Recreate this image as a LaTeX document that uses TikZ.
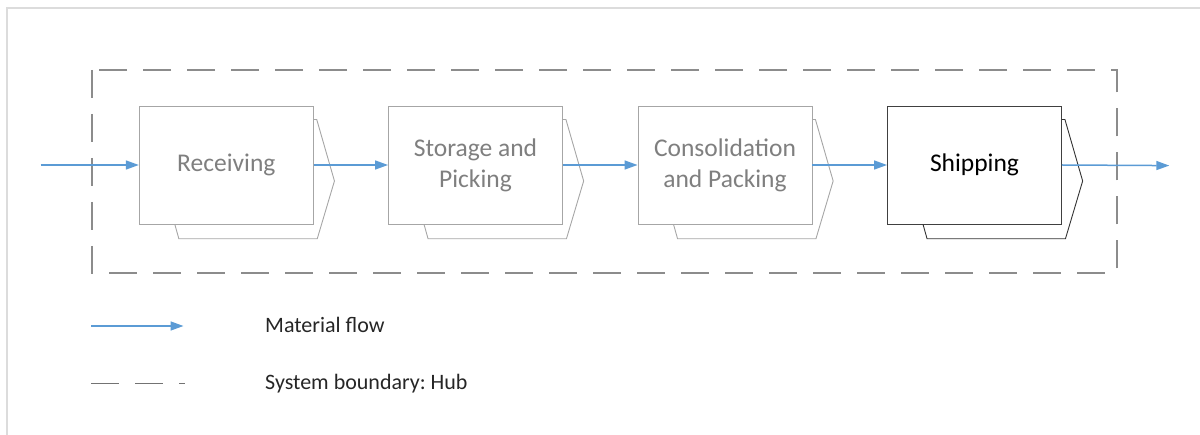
\documentclass[tikz,border=0pt]{standalone}
\usepackage{fontspec}
\setmainfont{Carlito}
\frenchspacing
\usetikzlibrary{arrows.meta,calc}
\definecolor{flowblue}{HTML}{5B9BD5}
\definecolor{boxgray}{HTML}{A6A6A6}
\definecolor{txtgray}{HTML}{7F7F7F}
\definecolor{dashgray}{HTML}{8C8C8C}
\definecolor{framegray}{HTML}{DCDCDC}
\definecolor{inkdark}{HTML}{262626}

% shadow plate behind a process box: visible right/bottom outline only
\newcommand\stageback[2]{%
  \draw[#2] ($(#1.north east)+(0,14)$) -- ++(3,0)
    -- ($(#1.east)+(20.7,16)$)
    -- ($(#1.south east)+(3.5,14.3)$)
    -- ($(#1.south west)+(40,14.3)$)
    -- ($(#1.south west)+(36,0)$);}

\begin{document}
\begin{tikzpicture}[x=1pt,y=-1pt,
  stage/.style={draw=boxgray, line width=0.9pt, fill=white,
    minimum width=174pt, minimum height=118pt, inner sep=0pt,
    text=txtgray, align=center, font=\fontsize{25.5}{31}\selectfont},
  activestage/.style={stage, draw=black!75, text=black},
  plate/.style={draw=boxgray, line width=0.9pt, line join=miter},
  activeplate/.style={plate, draw=black!80},
  flow/.style={draw=flowblue, line width=1.5pt,
    -{Triangle[length=13pt,width=9pt]}},
  boundary/.style={draw=dashgray, line width=2pt, dash pattern=on 28pt off 16pt},
  legendtext/.style={anchor=west, text=inkdark, inner sep=0pt,
    font=\fontsize{22}{26}\selectfont}
]
\useasboundingbox (0,0) rectangle (1200,435);

% outer frame
\draw[framegray, line width=2pt] (7,435) -- (7,8) -- (1200,8);

% system boundary
\draw[boundary] (91.7,70) -- (91.7,272.7) -- (1116.7,272.7) -- (1116.7,70) -- cycle;

% process stages
\node[stage]       (rec)  at (226.3,165) {Receiving};
\node[stage]       (sto)  at (475.5,165) {Storage and\\Picking};
\node[stage]       (con)  at (725,165)   {Consolidation\\and Packing};
\node[activestage] (ship) at (974.5,165) {Shipping};

\stageback{rec}{plate}
\stageback{sto}{plate}
\stageback{con}{plate}
\stageback{ship}{activeplate}

% material flow
\coordinate (src)  at (40.7,165);
\coordinate (sink) at (1169.3,165.6);
\draw[flow] (src) -- (rec.west);
\draw[flow] (rec.east) -- (sto.west);
\draw[flow] (sto.east) -- (con.west);
\draw[flow] (con.east) -- (ship.west);
\draw[flow] (ship.east) -- (sink);

% legend
\coordinate (la) at (91,326);
\coordinate (lb) at (183.5,326);
\draw[flow] (la) -- (lb);
\node[legendtext] (lflow) at (265,325) {Material flow};

\coordinate (da) at (91,383.3);
\coordinate (db) at (186,383.3);
\draw[draw=black!55, line width=1.3pt, dash pattern=on 28pt off 16pt on 28pt off 16pt on 6pt off 10pt] (da) -- (db);
\node[legendtext] (lbound) at (265,383.3) {System boundary: Hub};
\end{tikzpicture}
\end{document}
